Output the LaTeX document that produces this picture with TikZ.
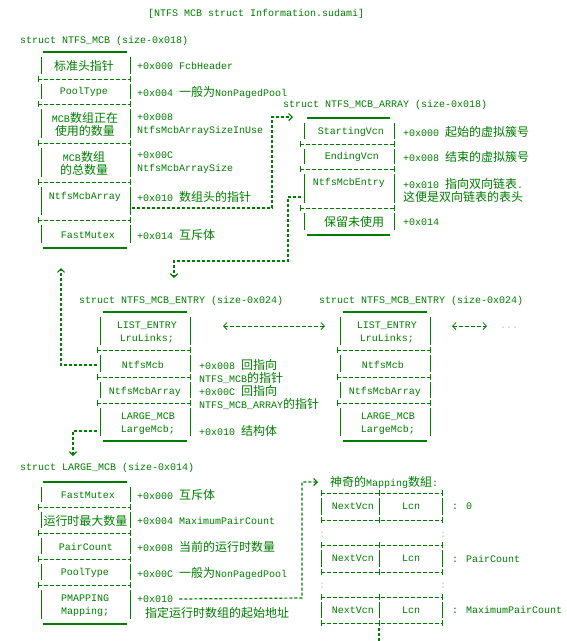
\documentclass[tikz,border=0pt]{standalone}
\usepackage{fontspec}
\setmainfont{Liberation Mono}
\newfontfamily\cjk{Noto Sans CJK SC}[Scale=1.2]
\usetikzlibrary{arrows.meta}
\definecolor{asciigreen}{RGB}{0,125,0}
\definecolor{dotgray}{RGB}{185,195,185}

\tikzset{
	txt/.style={inner sep=0pt, text=asciigreen, font=\fontsize{10}{13}\selectfont},
	fld/.style={txt, align=center},
	cmt/.style={txt, anchor=west, align=left},
	thk/.style={asciigreen, line width=2pt},
	sepln/.style={asciigreen, line width=0.8pt, dash pattern=on 4pt off 2pt},
	bar/.style={asciigreen, line width=0.8pt},
	link/.style={asciigreen, line width=1.2pt, dash pattern=on 3pt off 2pt},
	tip/.style={-{Straight Barb[length=3.5pt,width=7pt]}},
}

\begin{document}
\begin{tikzpicture}[x=1pt, y=-1pt]
	\fill[white] (0,0) rectangle (567,641);
	\useasboundingbox (0,0) rectangle (567,641);
	\node[cmt] (title) at (148,14) {[NTFS MCB struct Information.sudami]};

	% NTFS_MCB:
	\node[cmt] (mcb) at (20,41) {struct NTFS\_MCB (size-0x018)};
	\draw[thk] (43,52) -- (127,52) (43,248) -- (127,248);
	\foreach \s in {79,104,143,182,220} {
		\draw[sepln] (38,\s) -- (130,\s);
		\draw[bar] (38,\s-3) -- (38,\s+3) (130,\s-3) -- (130,\s+3);
	}
	\foreach \a/\b in {52/79,79/104,104/143,143/182,182/220,220/248}
		\draw[bar] (41,\a+5) -- (41,\b-5) (130,\a+5) -- (130,\b-5);
	\node[fld] (mcb-hdr) at (84,66) {\cjk 标准头指针};
	\node[fld] (mcb-pool) at (84,92) {PoolType};
	\node[fld] (mcb-use) at (85,124.5) {MCB{\cjk 数组正在}\\{\cjk 使用的数量}};
	\node[fld] (mcb-size) at (84,163) {MCB{\cjk 数组}\\{\cjk 的总数量}};
	\node[fld] (mcb-arr) at (85,197) {NtfsMcbArray};
	\node[fld] (mcb-mtx) at (88,235) {FastMutex};
	\node[cmt] (mcb-c0) at (137,66) {+0x000 FcbHeader};
	\node[cmt] (mcb-c4) at (137,92) {+0x004 {\cjk 一般为}NonPagedPool};
	\node[cmt] (mcb-c8) at (137,124.5) {+0x008\\NtfsMcbArraySizeInUse};
	\node[cmt] (mcb-cc) at (137,163) {+0x00C\\NtfsMcbArraySize};
	\node[cmt] (mcb-c10) at (137,197) {+0x010 {\cjk 数组头的指针}};
	\node[cmt] (mcb-c14) at (137,235) {+0x014 {\cjk 互斥体}};

	% NTFS_MCB_ARRAY:
	\node[cmt] (arr) at (283,105) {struct NTFS\_MCB\_ARRAY (size-0x018)};
	\draw[thk] (307,118) -- (390,118) (307,235) -- (390,235);
	\foreach \s in {144,169,208} {
		\draw[sepln] (300,\s) -- (394,\s);
		\draw[bar] (300,\s-3) -- (300,\s+3) (394,\s-3) -- (394,\s+3);
	}
	\foreach \a/\b in {118/144,144/169,169/208,208/235}
		\draw[bar] (304,\a+5) -- (304,\b-5) (394,\a+5) -- (394,\b-5);
	\node[fld] (arr-start) at (351,132) {StartingVcn};
	\node[fld] (arr-end) at (352,157) {EndingVcn};
	\node[fld] (arr-entry) at (349,183) {NtfsMcbEntry};
	\node[fld] (arr-rsv) at (354,222) {\cjk 保留未使用};
	\node[cmt] (arr-c0) at (403,132) {+0x000 {\cjk 起始的虚拟簇号}};
	\node[cmt] (arr-c8) at (403,157) {+0x008 {\cjk 结束的虚拟簇号}};
	\node[cmt] (arr-c10) at (403,190) {+0x010 {\cjk 指向双向链表}.\\{\cjk 这便是双向链表的表头}};
	\node[cmt] (arr-c14) at (403,222) {+0x014};

	% NTFS_MCB_ENTRY (two of them):
	\foreach \dx/\nm in {0/ea,240/eb} {
		\node[cmt] (\nm) at (79+\dx,301) {struct NTFS\_MCB\_ENTRY (size-0x024)};
		\draw[thk] (103+\dx,312) -- (187+\dx,312) (103+\dx,441) -- (187+\dx,441);
		\foreach \s in {350,377,403} {
			\draw[sepln] (97+\dx,\s) -- (190+\dx,\s);
			\draw[bar] (97+\dx,\s-3) -- (97+\dx,\s+3) (190+\dx,\s-3) -- (190+\dx,\s+3);
		}
		\foreach \a/\b in {312/350,350/377,377/403,403/441}
			\draw[bar] (100+\dx,\a+5) -- (100+\dx,\b-5) (190+\dx,\a+5) -- (190+\dx,\b-5);
		\node[fld] (\nm-list) at (147+\dx,333) {LIST\_ENTRY\\LruLinks;};
		\node[fld] (\nm-mcb) at (143+\dx,365) {NtfsMcb};
		\node[fld] (\nm-arr) at (145+\dx,392) {NtfsMcbArray};
		\node[fld] (\nm-large) at (148+\dx,424) {LARGE\_MCB\\LargeMcb;};
	}
	\node[cmt] (ea-c8) at (199,371) {+0x008 {\cjk 回指向}\\NTFS\_MCB{\cjk 的指针}};
	\node[cmt] (ea-cc) at (199,397.5) {+0x00C {\cjk 回指向}\\NTFS\_MCB\_ARRAY{\cjk 的指针}};
	\node[cmt] (ea-c10) at (199,431) {+0x010 {\cjk 结构体}};
	\node[cmt, text=dotgray] (more) at (500,328) {...};

	% LARGE_MCB:
	\node[cmt] (lm) at (20,468) {struct LARGE\_MCB (size-0x014)};
	\draw[thk] (43,482) -- (127,482) (43,624) -- (127,624);
	\foreach \s in {507,533,559,585} {
		\draw[sepln] (38,\s) -- (130,\s);
		\draw[bar] (38,\s-3) -- (38,\s+3) (130,\s-3) -- (130,\s+3);
	}
	\foreach \a/\b in {482/507,507/533,533/559,559/585,585/624}
		\draw[bar] (41,\a+5) -- (41,\b-5) (130,\a+5) -- (130,\b-5);
	\node[fld] (lm-mtx) at (88,495) {FastMutex};
	\node[fld] (lm-max) at (85.5,521) {\cjk 运行时最大数量};
	\node[fld] (lm-pair) at (86,547) {PairCount};
	\node[fld] (lm-pool) at (85,573) {PoolType};
	\node[cmt] (lm-map) at (61,606) {PMAPPING\\Mapping;};
	\node[cmt] (lm-c0) at (137,495) {+0x000 {\cjk 互斥体}};
	\node[cmt] (lm-c4) at (137,521) {+0x004 MaximumPairCount};
	\node[cmt] (lm-c8) at (137,547) {+0x008 {\cjk 当前的运行时数量}};
	\node[cmt] (lm-cc) at (137,573) {+0x00C {\cjk 一般为}NonPagedPool};
	\node[cmt] (lm-c10) at (137,599) {+0x010};
	\node[cmt] (lm-note) at (145,613) {\cjk 指定运行时数组的起始地址};

	% Mapping array:
	\node[cmt] (map) at (330,482) {{\cjk 神奇的}Mapping{\cjk 数組}:};
	\foreach \s in {493,520,545,572,597,623} {
		\draw[sepln] (321,\s) -- (442,\s);
		\foreach \x in {321,379,442}
			\draw[bar] (\x,\s-3) -- (\x,\s+3);
	}
	\foreach \a/\b/\nm/\lbl in {493/520/ma/0, 545/572/mb/PairCount, 597/623/mc/MaximumPairCount} {
		\foreach \x in {321,379,442}
			\draw[bar] (\x,\a+5) -- (\x,\b-5);
		\node[fld] (\nm-vcn) at (353,\a/2+\b/2) {NextVcn};
		\node[fld] (\nm-lcn) at (411,\a/2+\b/2) {Lcn};
		\node[cmt] (\nm-idx) at (452,\a/2+\b/2) {: \lbl};
	}
	\foreach \y/\nm in {535/da,586/db} {
		\node[fld, text=dotgray] (\nm-l) at (322,\y) {:};
		\node[fld, text=dotgray] (\nm-r) at (443,\y) {:};
	}

	% Links between the structs:
	\coordinate (l1a) at (132,208);
	\coordinate (l1b) at (272,208);
	\coordinate (l1c) at (272,117);
	\coordinate (l1d) at (293,117);
	\draw[link, tip] (l1a) -- (l1b) -- (l1c) -- (l1d);
	\coordinate (l2a) at (301,197);
	\coordinate (l2b) at (288,197);
	\coordinate (l2c) at (288,261);
	\coordinate (l2d) at (174,261);
	\coordinate (l2e) at (174,278);
	\draw[link, tip] (l2a) -- (l2b) -- (l2c) -- (l2d) -- (l2e);
	\coordinate (l3a) at (97,365);
	\coordinate (l3b) at (61,365);
	\coordinate (l3c) at (61,268);
	\draw[link, tip] (l3a) -- (l3b) -- (l3c);
	\coordinate (l4a) at (97,431);
	\coordinate (l4b) at (73,431);
	\coordinate (l4c) at (73,456);
	\draw[link, tip] (l4a) -- (l4b) -- (l4c);
	\coordinate (l5a) at ([xshift=6pt]lm-c10.east);
	\coordinate (l5b) at (302,598);
	\coordinate (l5c) at (302,482);
	\coordinate (l5d) at (318,482);
	\draw[link, tip] (l5a) -- (l5b) -- (l5c) -- (l5d);
	\draw[sepln, {Straight Barb[length=3.5pt,width=7pt]}-{Straight Barb[length=3.5pt,width=7pt]}] (223,326) -- (325,326);
	\draw[sepln, {Straight Barb[length=3.5pt,width=7pt]}-{Straight Barb[length=3.5pt,width=7pt]}] (452,326) -- (487,326);
	\draw[link] (379,628) -- (379,641);
\end{tikzpicture}
\end{document}
